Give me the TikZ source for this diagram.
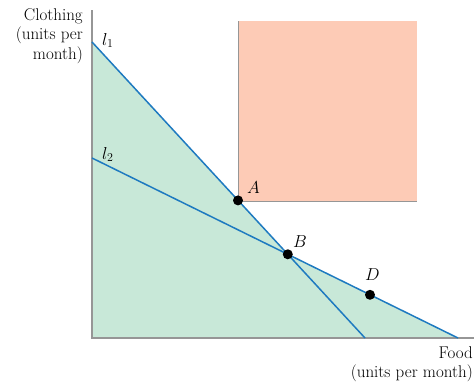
\documentclass[tikz,border=0pt]{standalone}
\usepackage{tikz}
\definecolor{feasgreen}{RGB}{200,232,216}
\definecolor{boxpink}{RGB}{253,203,182}
\definecolor{lineblue}{RGB}{30,122,192}
\definecolor{axisgray}{RGB}{150,150,150}
\tikzset{
  budget/.style={lineblue,line width=1.5pt},
  bundle/.style={circle,fill=black,inner sep=0pt,minimum size=10pt},
  axislabel/.style={font=\fontsize{17}{19.5}\selectfont,align=right,inner sep=0pt}
}

\begin{document}
\begin{tikzpicture}[x=1pt,y=-1pt,font=\fontsize{17}{20}\selectfont]
  \useasboundingbox (0,0) rectangle (474,383);
  % end points of the two budget lines
  \coordinate (l1top) at (92,42);
  \coordinate (l1end) at (365,338);
  \coordinate (l2top) at (92,158);
  \coordinate (l2end) at (458,338);
  \coordinate (cross) at (intersection of l1top--l1end and l2top--l2end);
  % feasible region under both lines
  \fill[feasgreen] (92,338) -- (l1top) -- (cross) -- (l2end) -- cycle;
  % bundles preferred to A
  \fill[boxpink] (238,21) rectangle (417,201);
  \draw[axisgray,line width=0.9pt] (238,21) -- (238,201) -- (417,201);
  % axes
  \draw[axisgray,line width=1.2pt] (92,10) -- (92,338) -- (474,338);
  % budget lines
  \draw[budget] (l1top) -- (l1end);
  \draw[budget] (l2top) -- (l2end);
  \node[anchor=south west,inner sep=2pt] at (100,50) {$l_1$};
  \node[anchor=south west,inner sep=2pt] at (100,164) {$l_2$};
  % bundles
  \node[bundle] (A) at (238,200.4) {};
  \node[bundle] (B) at (cross) {};
  \node[bundle] (D) at (370,294.8) {};
  \node[anchor=south west,inner sep=1pt] at (246,195) {$A$};
  \node[anchor=south west,inner sep=1pt] at (292,249) {$B$};
  \node[anchor=south west,inner sep=1pt] at (364,282) {$D$};
  % axis titles
  \node[axislabel,anchor=north east] at (83,8) {Clothing\\(units per\\month)};
  \node[axislabel,anchor=north east] at (473,346) {Food\\(units per month)};
\end{tikzpicture}
\end{document}
